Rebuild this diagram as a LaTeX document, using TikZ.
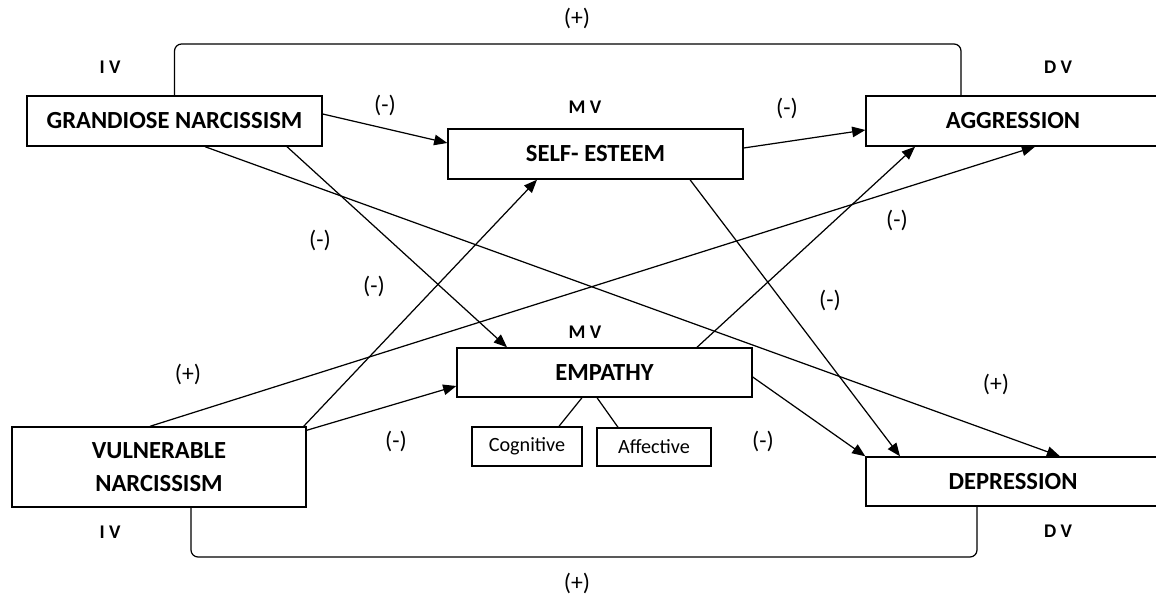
\documentclass[tikz,border=0pt]{standalone}
\usepackage{fontspec}
\setmainfont{Carlito}
\usetikzlibrary{arrows.meta}

\begin{document}
\begin{tikzpicture}
[
  x=0.02cm, y=-0.02cm,
  >={Triangle[length=7.5pt,width=6pt]},
  var/.style = {draw, line width=0.8pt, inner sep=0pt, align=center, font=\fontsize{14}{19}\selectfont\bfseries},
  part/.style = {draw, line width=0.8pt, inner sep=0pt, font=\fontsize{11.5}{13}\selectfont},
  sign/.style = {font=\fontsize{13.5}{15}\selectfont},
  tag/.style = {font=\fontsize{11}{13}\selectfont\bfseries},
  link/.style = {->, line width=0.7pt},
]

\useasboundingbox (0,0) rectangle (1156,597);

\node (gn) at (174.5,121) [var, minimum width=5.9cm, minimum height=1cm] {GRANDIOSE NARCISSISM};
\node (vn) at (159,467) [var, minimum width=5.88cm, minimum height=1.6cm] {VULNERABLE\\NARCISSISM};
\node (se) at (595.5,154) [var, minimum width=5.9cm, minimum height=1cm] {SELF- ESTEEM};
\node (em) at (604.5,372.5) [var, minimum width=5.9cm, minimum height=0.98cm] {EMPATHY};
\node (cog) at (527,446.5) [part, minimum width=2.2cm, minimum height=0.78cm] {Cognitive};
\node (aff) at (654,447) [part, minimum width=2.28cm, minimum height=0.76cm] {Affective};
\node (ag) at (1013,121) [var, minimum width=5.88cm, minimum height=1cm] {AGGRESSION};
\node (dep) at (1013,481.5) [var, minimum width=5.88cm, minimum height=0.98cm] {DEPRESSION};

\node (ivtop) at (110,67) [tag] {I V};
\node (ivbot) at (110,532) [tag] {I V};
\node (dvtop) at (1058,67) [tag] {D V};
\node (dvbot) at (1058,531) [tag] {D V};
\node (mvse) at (585,107) [tag] {M V};
\node (mvem) at (585,332) [tag] {M V};

\node (s1) at (577,18) [sign] {(+)};
\node (s2) at (385,105) [sign] {(-)};
\node (s3) at (787,108) [sign] {(-)};
\node (s4) at (320,240) [sign] {(-)};
\node (s5) at (374,286) [sign] {(-)};
\node (s6) at (897,220) [sign] {(-)};
\node (s7) at (830,300) [sign] {(-)};
\node (s8) at (996,384) [sign] {(+)};
\node (s9) at (188,374) [sign] {(+)};
\node (s10) at (396,441) [sign] {(-)};
\node (s11) at (763,441) [sign] {(-)};
\node (s12) at (577,583) [sign] {(+)};

\coordinate (topbar) at (577,44);
\coordinate (botbar) at (577,557);

\draw[link] ([yshift=0.14cm]gn.east) -- ([yshift=0.22cm]se.west);
\draw[link] ([xshift=2.25cm]gn.south) -- ([xshift=-1.95cm]em.north);
\draw[link] ([xshift=0.61cm]gn.south) -- ([xshift=0.94cm]dep.north);
\draw[link] ([yshift=0.12cm]se.east) -- ([yshift=-0.18cm]ag.west);
\draw[link] ([xshift=1.89cm]se.south) -- ([xshift=-2.26cm]dep.north);
\draw[link] ([xshift=1.85cm]em.north) -- ([xshift=-1.96cm]ag.south);
\draw[link] ([yshift=-0.09cm]em.east) -- (dep.north west);
\draw[link] ([xshift=-0.06cm]vn.north east) -- ([xshift=-1.17cm]se.south);
\draw[link] ([xshift=-0.18cm]vn.north) -- ([xshift=0.44cm]ag.south);
\draw[link] ([yshift=-0.08cm]vn.north east) -- ([yshift=-0.27cm]em.west);
\draw[line width=0.7pt] ([xshift=-0.45cm]em.south) -- ([xshift=0.64cm]cog.north);
\draw[line width=0.7pt] ([xshift=-0.15cm]em.south) -- ([xshift=-0.72cm]aff.north);

\draw[rounded corners=4pt, line width=0.7pt] (gn.north) |- (topbar) -| ([xshift=-1.04cm]ag.north);
\draw[rounded corners=4pt, line width=0.7pt] ([xshift=0.64cm]vn.south) |- (botbar) -| ([xshift=-0.72cm]dep.south);

\end{tikzpicture}
\end{document}
